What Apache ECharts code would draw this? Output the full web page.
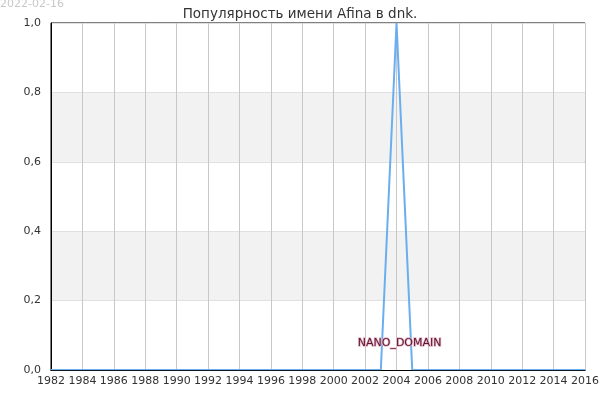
<!DOCTYPE html>
<html><head><meta charset="utf-8">
<script src="https://cdn.jsdelivr.net/npm/echarts@6/dist/echarts.min.js"></script>
<style>html,body{margin:0;padding:0;background:#fff}#c{width:600px;height:400px}</style>
</head><body><div id="c"></div>
<script>
var years = [1982,1983,1984,1985,1986,1987,1988,1989,1990,1991,1992,1993,1994,1995,1996,1997,1998,1999,2000,2001,2002,2003,2004,2005,2006,2007,2008,2009,2010,2011,2012,2013,2014,2015,2016];
var values = [0,0,0,0,0,0,0,0,0,0,0,0,0,0,0,0,0,0,0,0,0,0,1,0,0,0,0,0,0,0,0,0,0,0,0];
var titleText = 'Популярность имени Afina в dnk.';
var dateText = '2022-02-16';
var watermark = 'Имена Мира © 2022';
var font = '"DejaVu Sans", sans-serif';
var chart = echarts.init(document.getElementById('c'), null, {renderer:'canvas'});
chart.setOption({
  animation:false,
  backgroundColor:'#fff',
  title:{text:titleText,left:'center',top:2,textStyle:{fontFamily:font,fontSize:13.5,fontWeight:'normal',color:'#333'}},
  grid:{left:51,right:15,top:23,bottom:30,outerBoundsMode:'none',containLabel:false,show:true,borderColor:'#000',borderWidth:1,backgroundColor:'transparent'},
  xAxis:[{type:'value',min:1982,max:2016,interval:2,
    axisLine:{show:true,lineStyle:{color:'#000'}},
    axisTick:{show:false},
    axisLabel:{fontFamily:font,fontSize:11,color:'#333',margin:6,showMinLabel:true,showMaxLabel:true,hideOverlap:false,formatter:function(v){return String(v);}},
    splitLine:{show:true,lineStyle:{color:'#c8c8c8',width:1}}},
    {type:'value',min:1982,max:2016,interval:2,position:'bottom',z:20,
    axisLine:{show:true,onZero:false,lineStyle:{color:'#000',opacity:0.85}},
    axisTick:{show:false},axisLabel:{show:false},splitLine:{show:false}}],
  yAxis:{type:'value',min:0,max:1,interval:0.2,
    axisLine:{show:true,lineStyle:{color:'#000'}},
    axisTick:{show:false},
    axisLabel:{fontFamily:font,fontSize:11,color:'#333',margin:10,formatter:function(v){return v.toFixed(1).replace('.',',');}},
    splitLine:{show:true,lineStyle:{color:'#e0e0e0',width:1}},
    splitArea:{show:true,areaStyle:{color:['#ffffff','#f2f2f2']}}},
  series:[{type:'line',xAxisIndex:0,data:years.map(function(y,i){return [y,values[i]];}),
    symbol:'none',lineStyle:{color:'#6aaef0',width:2},clip:true}],
  graphic:[
    {type:'text',left:0,top:-1,style:{text:dateText,fontFamily:font,fontSize:11,fill:'#c8c8c8'}},
    {type:'text',left:84,top:41,silent:true,style:{text:watermark,fontFamily:font,fontSize:11,fill:'#ececf8'}},
    {type:'text',left:280,top:143,silent:true,style:{text:watermark,fontFamily:font,fontSize:11,fill:'#ececf8'}},
    {type:'text',left:150,top:193,silent:true,style:{text:watermark,fontFamily:font,fontSize:11,fill:'#ececf8'}},
    {type:'text',left:357,top:337,z:60,style:{text:'NANO_DOMAIN',fontFamily:font,fontSize:11,fill:'#5a1630',stroke:'#e8b8c8',lineWidth:1.5}}
  ]
});
</script></body></html>
